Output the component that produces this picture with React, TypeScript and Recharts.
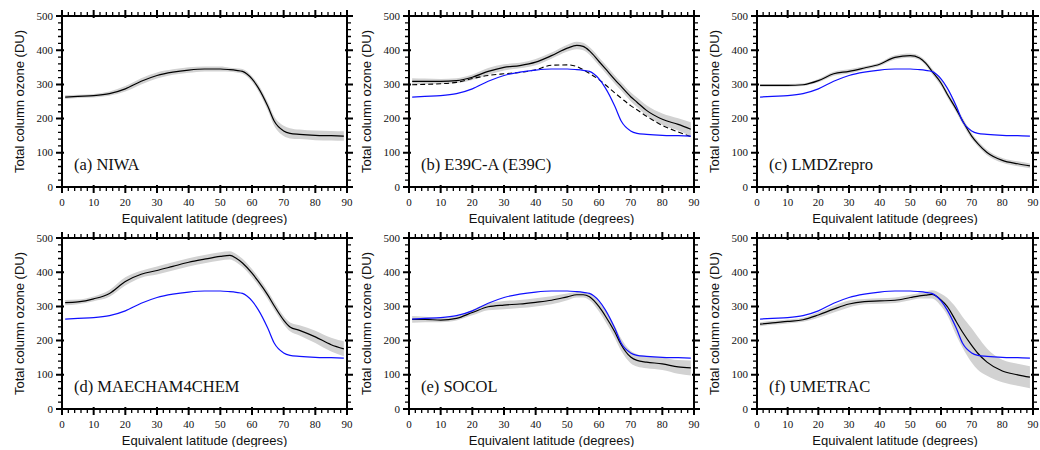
import { ComposedChart, Area, Line, XAxis, YAxis, ReferenceArea } from 'recharts';

const LAT = [1, 5, 10, 15, 20, 25, 30, 35, 40, 45, 50, 53, 55, 57, 60, 62, 65, 67, 70, 72, 75, 80, 85, 89];

// NIWA observations (blue reference in every panel but a)
const NIWA = [263, 265, 267, 273, 287, 309, 326, 336, 342, 345, 345, 343, 341, 338, 316, 290, 236, 193, 164, 157, 154, 151, 150, 149];
const NIWA_SPREAD = [6, 5, 5, 6, 8, 9, 9, 8, 8, 7, 7, 6, 6, 7, 8, 10, 12, 14, 15, 15, 14, 14, 14, 14];

const E39CA = [309, 309, 309, 311, 321, 338, 350, 355, 365, 384, 406, 414, 411, 398, 367, 346, 314, 294, 264, 248, 224, 198, 183, 169];
const E39CA_SPREAD = [9, 8, 7, 7, 8, 10, 9, 8, 9, 9, 10, 11, 11, 11, 12, 12, 12, 12, 13, 14, 15, 17, 18, 20];
const E39C = [299, 300, 302, 306, 317, 326, 331, 335, 343, 356, 357, 352, 343, 332, 314, 299, 275, 260, 238, 226, 207, 180, 161, 147];

const LMDZ = [297, 297, 297, 299, 311, 331, 338, 348, 359, 379, 384, 377, 362, 339, 304, 272, 227, 194, 149, 127, 101, 78, 68, 62];
const LMDZ_SPREAD = [4, 4, 4, 4, 5, 6, 6, 5, 5, 6, 6, 6, 7, 8, 9, 9, 9, 9, 9, 8, 8, 7, 7, 7];

const MAECHAM = [311, 313, 322, 338, 373, 394, 405, 417, 429, 438, 446, 449, 441, 427, 397, 373, 333, 302, 260, 240, 230, 211, 188, 176];
const MAECHAM_SPREAD = [8, 7, 7, 10, 12, 10, 12, 12, 12, 12, 12, 12, 12, 12, 12, 12, 12, 12, 12, 13, 15, 18, 20, 22];

const SOCOL = [262, 262, 260, 265, 282, 299, 304, 307, 312, 318, 328, 334, 334, 328, 299, 272, 225, 188, 152, 142, 137, 132, 123, 120];
const SOCOL_SPREAD = [10, 8, 6, 6, 8, 10, 12, 12, 12, 12, 10, 8, 8, 10, 14, 16, 18, 18, 18, 18, 18, 18, 20, 22];

const UMETRAC = [248, 252, 256, 261, 275, 292, 307, 314, 316, 318, 326, 331, 333, 335, 319, 300, 255, 225, 186, 163, 137, 111, 100, 93];
const UMETRAC_SPREAD = [6, 6, 6, 6, 8, 10, 10, 8, 8, 8, 8, 8, 10, 12, 18, 25, 40, 45, 50, 48, 40, 33, 32, 32];

// ticks every 2 degrees / 20 DU, labelled every 10 degrees / 100 DU
const X_TICKS = [0, 2, 4, 6, 8, 10, 12, 14, 16, 18, 20, 22, 24, 26, 28, 30, 32, 34, 36, 38, 40, 42, 44, 46, 48, 50, 52, 54, 56, 58, 60, 62, 64, 66, 68, 70, 72, 74, 76, 78, 80, 82, 84, 86, 88, 90];
const Y_TICKS = [0, 20, 40, 60, 80, 100, 120, 140, 160, 180, 200, 220, 240, 260, 280, 300, 320, 340, 360, 380, 400, 420, 440, 460, 480, 500];
const X_LABELS = [0, 10, 20, 30, 40, 50, 60, 70, 80, 90];
const Y_LABELS = [0, 100, 200, 300, 400, 500];

const SERIF = '"Liberation Serif", "Times New Roman", serif';
const SANS = '"Liberation Sans", Arial, sans-serif';
const BLUE = '#1010ff';
const BAND = '#d2d2d2';

// frame with tick marks on all four sides (majors cross the frame, minors point outward)
const FrameShape = (props: any) => {
    const x = Number(props.x);
    const y = Number(props.y);
    const w = Number(props.width);
    const h = Number(props.height);
    let major = '';
    let minor = '';
    X_TICKS.forEach((v) => {
        const px = x + (w * v) / 90;
        if (v % 10 === 0) {
            major += `M${px},${y + h - 2}L${px},${y + h + 6}M${px},${y + 2}L${px},${y - 6}`;
        } else {
            minor += `M${px},${y + h}L${px},${y + h + 4}M${px},${y}L${px},${y - 4}`;
        }
    });
    Y_TICKS.forEach((v) => {
        const py = y + h - (h * v) / 500;
        if (v % 100 === 0) {
            major += `M${x + 2},${py}L${x - 6},${py}M${x + w - 2},${py}L${x + w + 6},${py}`;
        } else {
            minor += `M${x},${py}L${x - 4},${py}M${x + w},${py}L${x + w + 4},${py}`;
        }
    });
    return (
        <g>
            <path d={minor} stroke="#000" strokeWidth={1.3} fill="none" />
            <path d={major} stroke="#000" strokeWidth={2} fill="none" />
            <rect x={x} y={y} width={w} height={h} stroke="#000" strokeWidth={2} fill="none" />
        </g>
    );
};

const XTickLabel = (props: any) => (
    <text x={Number(props.x)} y={Number(props.y) + 19} textAnchor="middle" fontSize={11} fontFamily={SERIF} fill="#111">
        {props.payload.value}
    </text>
);

const YTickLabel = (props: any) => (
    <text x={Number(props.x) - 9} y={Number(props.y) + 3.5} textAnchor="end" fontSize={11} fontFamily={SERIF} fill="#111">
        {props.payload.value}
    </text>
);

interface PanelProps {
    left: number;
    top: number;
    plotW: number;
    label: string;
    mean: number[];
    spread: number[];
    dashed?: number[];
    showNiwa: boolean;
}

const Panel = ({ left, top, plotW, label, mean, spread, dashed, showNiwa }: PanelProps) => {
    const data = LAT.map((lat, i) => ({
        lat,
        mean: mean[i],
        band: [mean[i] - spread[i], mean[i] + spread[i]],
        niwa: NIWA[i],
        dashed: dashed ? dashed[i] : null,
    }));

    return (
        <div style={{ position: 'absolute', left, top }}>
            <ComposedChart width={62 + plotW + 8} height={225} data={data} margin={{ top: 16, right: 8, left: 0, bottom: 0 }}
                style={{ overflow: 'visible' }}>
                <XAxis xAxisId="x" type="number" dataKey="lat" domain={[0, 90]} ticks={X_LABELS} allowDataOverflow
                    height={38} tickSize={0} tickMargin={0} axisLine={false} tickLine={false}
                    tick={(p: any) => <XTickLabel {...p} />} interval={0}
                    label={{ value: 'Equivalent latitude (degrees)', position: 'insideBottom', offset: 2, style: { fontSize: 13, fontFamily: SANS, fill: '#111' } }} />
                <YAxis yAxisId="y" type="number" domain={[0, 500]} ticks={Y_LABELS} allowDataOverflow
                    width={62} tickSize={0} tickMargin={0} axisLine={false} tickLine={false}
                    tick={(p: any) => <YTickLabel {...p} />} interval={0}
                    label={{ value: 'Total column ozone (DU)', angle: -90, position: 'insideLeft', offset: 19, style: { textAnchor: 'middle', fontSize: 13, fontFamily: SANS, fill: '#111' } }} />

                <Area xAxisId="x" yAxisId="y" type="monotone" dataKey="band" stroke="none" fill={BAND} fillOpacity={1} isAnimationActive={false} />
                <Line xAxisId="x" yAxisId="y" type="monotone" dataKey="mean" stroke="#000" strokeWidth={1.2} dot={false} isAnimationActive={false} />
                {dashed && (
                    <Line xAxisId="x" yAxisId="y" type="monotone" dataKey="dashed" stroke="#000" strokeWidth={1.1} strokeDasharray="5 3" dot={false} isAnimationActive={false} />
                )}
                {showNiwa && (
                    <Line xAxisId="x" yAxisId="y" type="monotone" dataKey="niwa" stroke={BLUE} strokeWidth={1.2} dot={false} isAnimationActive={false} />
                )}
                <ReferenceArea xAxisId="x" yAxisId="y" x1={0} x2={90} y1={0} y2={500} ifOverflow="visible" shape={(p: any) => <FrameShape {...p} />} />
            </ComposedChart>
            <div style={{ position: 'absolute', left: 74, top: 155, fontFamily: SERIF, fontSize: 16.5, color: '#111', whiteSpace: 'nowrap', lineHeight: '20px' }}>
                {label}
            </div>
        </div>
    );
};

const App = () => {
    return (
        <div style={{ position: 'absolute', left: 0, top: 0, width: 1040, height: 450, overflow: 'hidden', background: '#fff' }}>
            <Panel left={0} top={0} plotW={285} label="(a) NIWA" mean={NIWA} spread={NIWA_SPREAD} showNiwa={false} />
            <Panel left={347} top={0} plotW={285} label="(b) E39C-A (E39C)" mean={E39CA} spread={E39CA_SPREAD} dashed={E39C} showNiwa />
            <Panel left={695} top={0} plotW={276} label="(c) LMDZrepro" mean={LMDZ} spread={LMDZ_SPREAD} showNiwa />
            <Panel left={0} top={222} plotW={285} label="(d) MAECHAM4CHEM" mean={MAECHAM} spread={MAECHAM_SPREAD} showNiwa />
            <Panel left={347} top={222} plotW={285} label="(e) SOCOL" mean={SOCOL} spread={SOCOL_SPREAD} showNiwa />
            <Panel left={695} top={222} plotW={276} label="(f) UMETRAC" mean={UMETRAC} spread={UMETRAC_SPREAD} showNiwa />
        </div>
    );
};

export default App;
